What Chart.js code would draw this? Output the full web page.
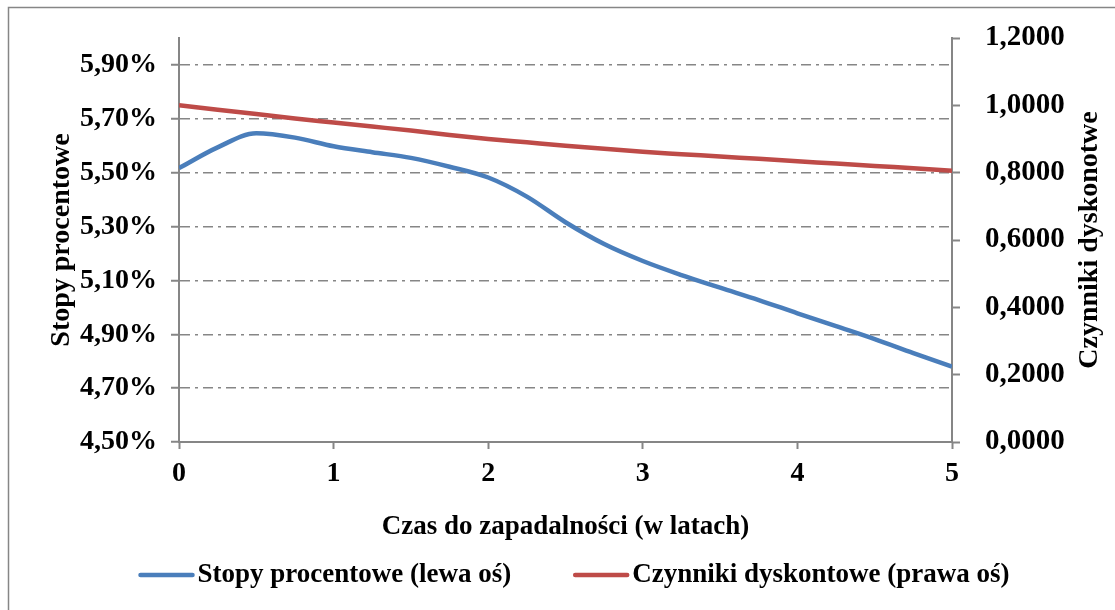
<!DOCTYPE html>
<html>
<head>
<meta charset="utf-8">
<script src="https://cdn.jsdelivr.net/npm/chart.js@4.4.1/dist/chart.umd.min.js"></script>
<style>
html,body{margin:0;padding:0;background:#fff;}
#wrap{width:1115px;height:610px;position:relative;}
</style>
</head>
<body>
<div id="wrap"><canvas id="c" width="1115" height="610"></canvas></div>
<script>
// ---- data ----
const years = [0, 0.25, 0.5, 0.75, 1, 1.25, 1.5, 1.75, 2, 2.25, 2.5, 2.75, 3, 3.25, 3.5, 3.75, 4, 4.25, 4.5, 4.75, 5];
const interestRates = [5.517, 5.594, 5.646, 5.630, 5.598, 5.576, 5.555, 5.522, 5.482, 5.411, 5.316, 5.235, 5.172, 5.120, 5.073, 5.027, 4.978, 4.930, 4.882, 4.830, 4.780];
const discountFactors = [1.000, 0.987, 0.974, 0.961, 0.949, 0.937, 0.925, 0.912, 0.900, 0.890, 0.880, 0.871, 0.862, 0.855, 0.848, 0.841, 0.834, 0.827, 0.820, 0.813, 0.806];
const xTicks = [0, 1, 2, 3, 4, 5];
const leftTicks = [4.5, 4.7, 4.9, 5.1, 5.3, 5.5, 5.7, 5.9];
const rightTicks = [0, 0.2, 0.4, 0.6, 0.8, 1.0, 1.2];
const seriesNames = ['Stopy procentowe (lewa oś)', 'Czynniki dyskontowe (prawa oś)'];
const xTitle = 'Czas do zapadalności (w latach)';
const leftTitle = 'Stopy procentowe';
const rightTitle = 'Czynniki dyskonotwe';

// ---- style ----
const FONT = 'Liberation Serif, Times New Roman, serif';
const GRAY = '#868686';
const BLUE = '#4A7EBB';
const RED = '#BE4B48';

const ptsBlue = years.map((x, i) => ({x: x, y: interestRates[i]}));
const ptsRed = years.map((x, i) => ({x: x, y: discountFactors[i]}));

const frame = {
  id: 'frame',
  beforeDraw(chart) {
    const ctx = chart.ctx;
    ctx.save();
    ctx.fillStyle = '#fff';
    ctx.fillRect(0, 0, chart.width, chart.height);
    ctx.strokeStyle = GRAY;
    ctx.lineWidth = 1.5;
    ctx.beginPath();
    ctx.moveTo(8.5, chart.height + 5);
    ctx.lineTo(8.5, 7.5);
    ctx.lineTo(chart.width + 5, 7.5);
    ctx.stroke();
    ctx.restore();
  },
  afterDraw(chart) {
    const ctx = chart.ctx;
    const ca = chart.chartArea;
    ctx.save();
    ctx.fillStyle = '#000';
    ctx.font = 'bold 28px ' + FONT;
    ctx.textAlign = 'center';
    ctx.textBaseline = 'middle';
    ctx.translate(1090, (ca.top + ca.bottom) / 2);
    ctx.rotate(-Math.PI / 2);
    ctx.fillText(rightTitle, 0, 0);
    ctx.restore();

    // legend
    ctx.save();
    ctx.font = 'bold 27px ' + FONT;
    ctx.textBaseline = 'middle';
    ctx.textAlign = 'left';
    const lineW = 56, gapT = 3, gapItem = 62, yL = 575;
    const items = chart.data.datasets.map(d => ({text: d.label, color: d.borderColor, w: ctx.measureText(d.label).width}));
    let total = 0;
    items.forEach((it, i) => { total += lineW + gapT + it.w + (i ? gapItem : 0); });
    let x = 574 - total / 2;
    items.forEach((it, i) => {
      if (i) x += gapItem;
      ctx.strokeStyle = it.color;
      ctx.lineWidth = 4.5;
      ctx.lineCap = 'round';
      ctx.beginPath();
      ctx.moveTo(x + 2, yL);
      ctx.lineTo(x + lineW - 2, yL);
      ctx.stroke();
      x += lineW + gapT;
      ctx.fillStyle = '#000';
      ctx.fillText(it.text, x, yL);
      x += it.w;
    });
    ctx.restore();
  }
};

const fmtPct = v => v.toFixed(2).replace('.', ',') + '%';
const fmtDec = v => v.toFixed(4).replace('.', ',');

new Chart(document.getElementById('c'), {
  type: 'line',
  data: {
    datasets: [
      {label: seriesNames[0], data: ptsBlue, yAxisID: 'y', borderColor: BLUE, backgroundColor: BLUE, borderWidth: 4.5, pointRadius: 0, tension: 0.4, cubicInterpolationMode: 'monotone', borderCapStyle: 'butt'},
      {label: seriesNames[1], data: ptsRed, yAxisID: 'y1', borderColor: RED, backgroundColor: RED, borderWidth: 4.5, pointRadius: 0, tension: 0.4, cubicInterpolationMode: 'monotone', borderCapStyle: 'butt'}
    ]
  },
  options: {
    responsive: false,
    animation: false,
    events: [],
    layout: {padding: {top: 38, left: 0, right: 0, bottom: 58}},
    plugins: {
      tooltip: {enabled: false},
      legend: {display: false}
    },
    scales: {
      x: {
        type: 'linear', min: 0, max: 5,
        afterBuildTicks(s) { s.ticks = xTicks.map(v => ({value: v})); },
        afterFit(s) { s.height = 110; s.paddingLeft = 0; s.paddingRight = 0; },
        border: {display: true, color: GRAY, width: 2},
        grid: {drawOnChartArea: false, drawTicks: true, tickLength: 7, tickColor: GRAY, tickWidth: 2},
        ticks: {color: '#000', font: {family: FONT, size: 28, weight: 'bold'}, padding: 8, maxRotation: 0, callback: v => String(v)},
        title: {display: true, text: xTitle, color: '#000', font: {family: FONT, size: 27, weight: 'bold'}, padding: {top: 0, bottom: 9}}
      },
      y: {
        type: 'linear', position: 'left', min: 4.5, max: 6.0,
        afterBuildTicks(s) { s.ticks = leftTicks.map(v => ({value: v})); },
        afterFit(s) { s.width = 179; s.paddingTop = 0; s.paddingBottom = 0; },
        border: {display: true, color: GRAY, width: 2, dash: [10, 5, 3, 5]},
        grid: {color: GRAY, lineWidth: 1.5, drawTicks: true, tickLength: 8, tickColor: GRAY, tickWidth: 2, tickBorderDash: []},
        ticks: {color: '#000', font: {family: FONT, size: 28, weight: 'bold'}, padding: 14, callback: v => fmtPct(v)},
        title: {display: true, text: leftTitle, color: '#000', font: {family: FONT, size: 28, weight: 'bold'}, padding: {top: 45, bottom: 0}}
      },
      y1: {
        type: 'linear', position: 'right', min: 0, max: 1.2,
        afterBuildTicks(s) { s.ticks = rightTicks.map(v => ({value: v})); },
        afterFit(s) { s.width = 163; s.paddingTop = 0; s.paddingBottom = 0; },
        border: {display: true, color: GRAY, width: 2},
        grid: {drawOnChartArea: false, drawTicks: true, tickLength: 8, tickColor: GRAY, tickWidth: 2},
        ticks: {color: '#000', font: {family: FONT, size: 29, weight: 'bold'}, padding: 25, callback: v => fmtDec(v)},
        title: {display: false}
      }
    }
  },
  plugins: [frame]
});
</script>
</body>
</html>
